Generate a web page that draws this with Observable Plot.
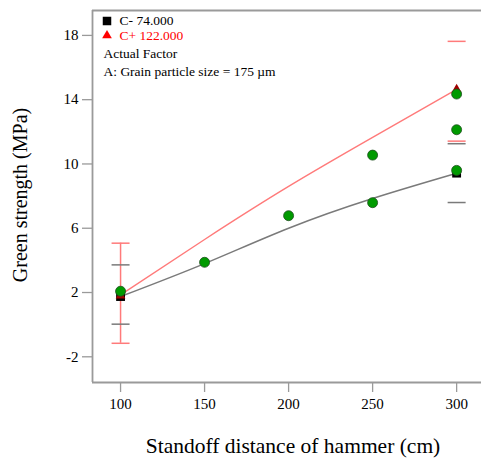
<!DOCTYPE html>
<html>
<head>
<meta charset="utf-8">
<script src="https://cdn.jsdelivr.net/npm/d3@7"></script>
<script src="https://cdn.jsdelivr.net/npm/@observablehq/plot@0.6"></script>
<style>
  html, body { margin: 0; padding: 0; background: white; }
</style>
</head>
<body>
<div id="chart"></div>
<script>
// ---- data ----
const distance = [100, 150, 200, 250, 300];
const lineLow = [1.75, 3.8, 6.0, 7.85, 9.42];     // C- 74.000 fitted line
const lineHigh = [1.85, 5.3, 8.6, 11.65, 14.64];  // C+ 122.000 fitted line

const designX = [100, 150, 200, 250, 250, 300, 300, 300];
const designY = [2.08, 3.88, 6.78, 7.59, 10.55, 14.35, 12.13, 9.6];

const lowPointX = [100, 300];
const lowPointY = [1.75, 9.43];
const highPointX = [100, 300];
const highPointY = [1.8, 14.64];

const errHighX = [100, 300];
const errHighLo = [-1.16, 11.42];
const errHighHi = [5.07, 17.63];
const errLowX = [100, 300];
const errLowLo = [0.03, 7.6];
const errLowHi = [3.72, 11.26];

const yTicks = [-2, 2, 6, 10, 14, 18];
const xTicks = [100, 150, 200, 250, 300];

const legendLow = "C- 74.000";
const legendHigh = "C+ 122.000";
const factorTitle = "Actual Factor";
const factorText = "A: Grain particle size = 175 µm";
const xTitle = "Standoff distance of hammer (cm)";
const yTitle = "Green strength (MPa)";

// ---- tables ----
const lowLine = distance.map((x, i) => ({x, y: lineLow[i]}));
const highLine = distance.map((x, i) => ({x, y: lineHigh[i]}));
const design = designX.map((x, i) => ({x, y: designY[i]}));
const lowPts = lowPointX.map((x, i) => ({x, y: lowPointY[i]}));
const highPts = highPointX.map((x, i) => ({x, y: highPointY[i]}));
const errHigh = errHighX.map((x, i) => ({x, lo: errHighLo[i], hi: errHighHi[i]}));
const errLow = errLowX.map((x, i) => ({x, lo: errLowLo[i], hi: errLowHi[i]}));
const capsHigh = errHigh.flatMap(d => [{x: d.x, y: d.lo}, {x: d.x, y: d.hi}]);
const capsLow = errLow.flatMap(d => [{x: d.x, y: d.lo}, {x: d.x, y: d.hi}]);

const capSymbol = {
  draw(ctx, size) {
    const w = Math.sqrt(size / Math.PI);
    ctx.moveTo(-w, 0);
    ctx.lineTo(w, 0);
  }
};

const xDomain = [83.3, 314.8];
const yDomain = [-3.6, 19.55];
const axisColor = "#9a9a9a";
const red = "#ff7a7a";
const gray = "#7a7a7a";

const chart = Plot.plot({
  width: 481,
  height: 465,
  marginLeft: 92,
  marginRight: 0,
  marginTop: 10,
  marginBottom: 83,
  style: {fontFamily: "'Liberation Serif', 'Times New Roman', serif", background: "white", color: "black"},
  x: {domain: xDomain},
  y: {domain: yDomain},
  marks: [
    // frame (top, left, bottom)
    Plot.ruleY([yDomain[1]], {stroke: axisColor, strokeWidth: 1.8}),
    Plot.ruleY([yDomain[0]], {stroke: axisColor, strokeWidth: 1.8}),
    Plot.ruleX([xDomain[0]], {stroke: axisColor, strokeWidth: 1.8}),
    Plot.axisY({ticks: yTicks, tickSize: 10, tickPadding: 4, fontSize: 15, stroke: axisColor, strokeWidth: 1.3, tickFormat: d => String(d), label: null}),
    Plot.axisX({ticks: xTicks, tickSize: 10, tickPadding: 6, fontSize: 15, stroke: axisColor, strokeWidth: 1.3, tickFormat: d => String(d), label: null}),
    // axis titles
    Plot.text([yTitle], {text: d => d, frameAnchor: "left", dx: -72, dy: -1.5, rotate: -90, fontSize: 20, textAnchor: "middle", fill: "black"}),
    Plot.text([xTitle], {text: d => d, frameAnchor: "bottom", dx: 6, dy: 70, fontSize: 21.5, textAnchor: "middle", fill: "black"}),
    // error bars
    Plot.ruleX(errHigh.filter(d => d.x === 100), {x: "x", y1: "lo", y2: "hi", stroke: red, strokeWidth: 1.5}),
    Plot.dot(capsLow, {x: "x", y: "y", symbol: capSymbol, r: 9, stroke: gray, strokeWidth: 1.5, fill: "none"}),
    Plot.dot(capsHigh, {x: "x", y: "y", symbol: capSymbol, r: 9, stroke: red, strokeWidth: 1.5, fill: "none"}),
    // fitted lines
    Plot.line(lowLine, {x: "x", y: "y", curve: "natural", stroke: gray, strokeWidth: 1.5}),
    Plot.line(highLine, {x: "x", y: "y", curve: "natural", stroke: red, strokeWidth: 1.4}),
    // predicted points
    Plot.dot(lowPts, {x: "x", y: "y", symbol: "square", r: 5, fill: "black"}),
    Plot.dot(highPts, {x: "x", y: "y", symbol: "triangle", r: 3.6, fill: "#a00000"}),
    // design points
    Plot.dot(design, {x: "x", y: "y", r: 5, fill: "#009a00", stroke: "#1f4f1f", strokeWidth: 0.8}),
    // legend
    Plot.dot([legendLow], {frameAnchor: "top-left", dx: 14.5, dy: 10.5, symbol: "square", r: 4.8, fill: "black"}),
    Plot.dot([legendHigh], {frameAnchor: "top-left", dx: 14.5, dy: 25, symbol: "triangle", r: 3.6, fill: "red"}),
    Plot.text([legendLow], {text: d => d, frameAnchor: "top-left", dx: 27, dy: 10.5, textAnchor: "start", lineAnchor: "middle", fontSize: 13.5, fill: "black"}),
    Plot.text([legendHigh], {text: d => d, frameAnchor: "top-left", dx: 27, dy: 25.5, textAnchor: "start", lineAnchor: "middle", fontSize: 13.5, fill: "red"}),
    Plot.text([factorTitle], {text: d => d, frameAnchor: "top-left", dx: 11, dy: 43, textAnchor: "start", lineAnchor: "middle", fontSize: 13.5, fill: "black"}),
    Plot.text([factorText], {text: d => d, frameAnchor: "top-left", dx: 11, dy: 61, textAnchor: "start", lineAnchor: "middle", fontSize: 13.5, fill: "black"})
  ]
});
document.getElementById("chart").appendChild(chart);
</script>
</body>
</html>
